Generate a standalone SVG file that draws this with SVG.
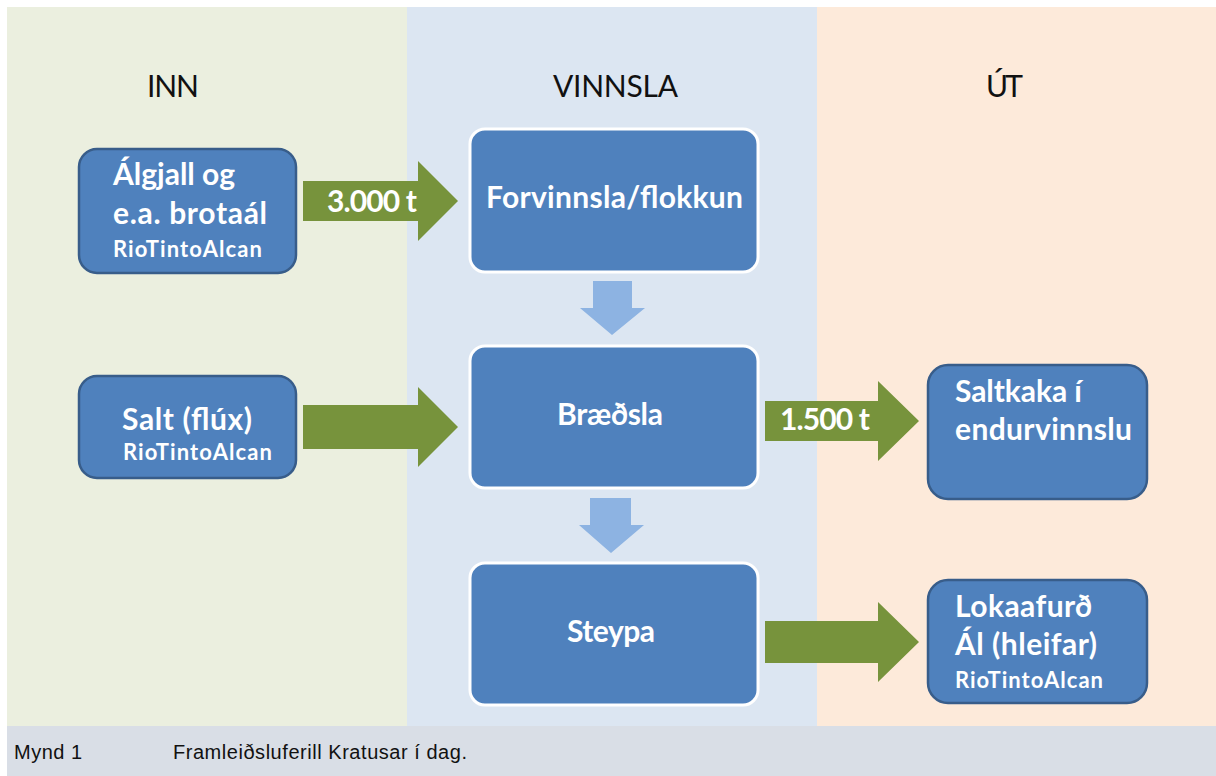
<svg xmlns="http://www.w3.org/2000/svg" width="1216" height="776" viewBox="0 0 1216 776">
<style>
.hdr{font-family:Lato,"Open Sans","Liberation Sans",sans-serif;font-size:30px;fill:#111}
.t{font-family:Lato,"Open Sans","Liberation Sans",sans-serif;font-weight:bold;font-size:30px;fill:#fff}
.s{font-family:Lato,"Open Sans","Liberation Sans",sans-serif;font-weight:bold;font-size:22px;fill:#fff}
.boxd{fill:#4F81BD;stroke:#385D8A;stroke-width:2.5}
.boxw{fill:#4F81BD;stroke:#fff;stroke-width:3}
.ga{fill:#77933C}
.da{fill:#8DB3E2}
.cap{font-family:"Liberation Sans",Arial,sans-serif;font-size:20px;fill:#111}
</style>
<rect x="0" y="0" width="1216" height="776" fill="#fff"/>
<g id="background">
<rect x="7" y="7" width="400" height="719" fill="#EBEFDF"/>
<rect x="407" y="7" width="410" height="719" fill="#DCE6F2"/>
<rect x="817" y="7" width="399" height="719" fill="#FDEADA"/>
<rect x="7" y="726" width="1209" height="50" fill="#D9DEE6"/>
</g>
<g id="headers">
<text class="hdr" x="147" y="97" textLength="52">INN</text>
<text class="hdr" x="553" y="97" textLength="125">VINNSLA</text>
<text class="hdr" x="986" y="97" textLength="37">ÚT</text>
</g>
<g id="connectors">
<path class="ga" d="M303,181 H418 V161 L458,201 L418,241 V221 H303 Z"/>
<path class="ga" d="M303,405 H418 V387 L458,427 L418,467 V449 H303 Z"/>
<path class="ga" d="M765,401 H878 V381 L919,421 L878,461 V441 H765 Z"/>
<path class="ga" d="M765,621 H878 V602 L919,642 L878,682 V663 H765 Z"/>
<path class="da" d="M593,281 H632 V308 H645 L612,335 L580,308 H593 Z"/>
<path class="da" d="M590,498 H631 V525 H644 L611,553 L579,525 H590 Z"/>
<text class="t" x="327" y="212" textLength="90">3.000 t</text>
<text class="t" x="780" y="430" textLength="90">1.500 t</text>
</g>
<g id="node-algjall">
<rect class="boxd" x="79" y="149" width="217" height="124" rx="18"/>
<text class="t" x="113" y="185" textLength="122">Álgjall og</text>
<text class="t" x="113" y="224" textLength="154">e.a. brotaál</text>
<text class="s" x="113" y="257" textLength="149">RioTintoAlcan</text>
</g>
<g id="node-salt">
<rect class="boxd" x="79" y="376" width="217" height="102" rx="18"/>
<text class="t" x="122" y="430" textLength="130">Salt (flúx)</text>
<text class="s" x="123" y="460" textLength="149">RioTintoAlcan</text>
</g>
<g id="node-forvinnsla">
<rect class="boxw" x="470" y="129" width="288" height="143" rx="15"/>
<text class="t" x="486" y="208" textLength="257">Forvinnsla/flokkun</text>
</g>
<g id="node-braedsla">
<rect class="boxw" x="470" y="346" width="288" height="142" rx="15"/>
<text class="t" x="557" y="425" textLength="106">Bræðsla</text>
</g>
<g id="node-steypa">
<rect class="boxw" x="470" y="563" width="288" height="142" rx="15"/>
<text class="t" x="567" y="642" textLength="88">Steypa</text>
</g>
<g id="node-saltkaka">
<rect class="boxd" x="928" y="365" width="219" height="134" rx="20"/>
<text class="t" x="955" y="402" textLength="127">Saltkaka í</text>
<text class="t" x="955" y="440" textLength="177">endurvinnslu</text>
</g>
<g id="node-lokaafurd">
<rect class="boxd" x="928" y="580" width="219" height="123" rx="20"/>
<text class="t" x="955" y="617" textLength="137">Lokaafurð</text>
<text class="t" x="955" y="655" textLength="142">Ál (hleifar)</text>
<text class="s" x="955" y="688" textLength="148">RioTintoAlcan</text>
</g>
<g id="caption">
<text class="cap" x="14" y="759" textLength="68">Mynd 1</text>
<text class="cap" x="173" y="759" textLength="294">Framleiðsluferill Kratusar í dag.</text>
</g>
</svg>
